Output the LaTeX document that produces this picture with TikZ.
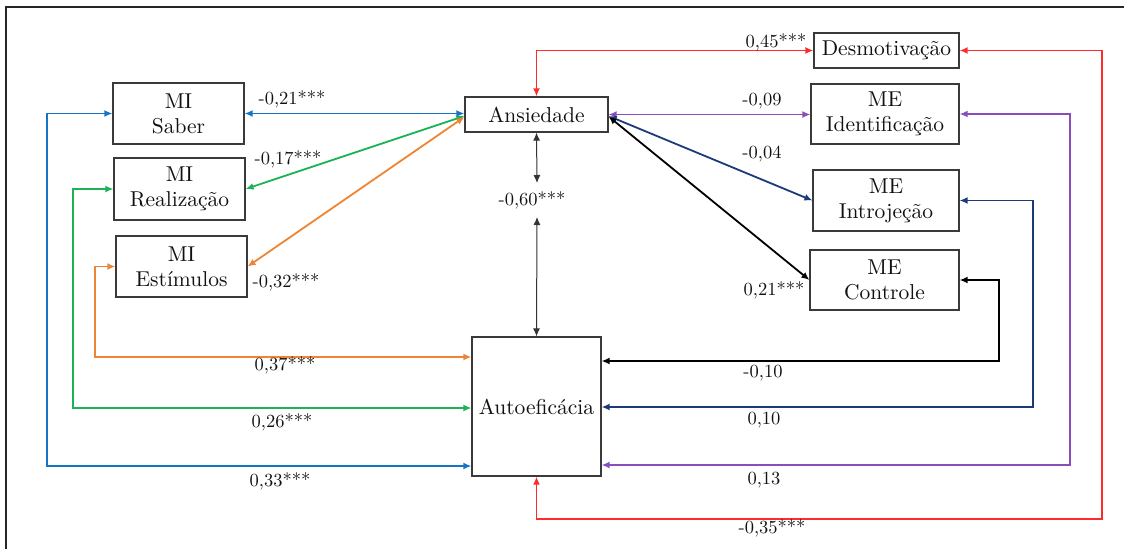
\documentclass[tikz,border=0pt]{standalone}
\usepackage{fontspec}
% 10pt design of Latin Modern Roman, used at every size for sturdier strokes
\setmainfont{lmroman10-regular}[Extension=.otf, BoldFont=lmroman10-bold]
\usetikzlibrary{arrows.meta}
\definecolor{cblue}{HTML}{1574C8}
\definecolor{cgreen}{HTML}{1DB257}
\definecolor{corange}{HTML}{EE8535}
\definecolor{cred}{HTML}{FF2A2A}
\definecolor{cpurple}{HTML}{8A4DBB}
\definecolor{cnavy}{HTML}{1C3A7A}
\definecolor{ctext}{HTML}{111111}
\definecolor{cbox}{HTML}{3A3A3A}
\tikzset{
  box/.style={draw=cbox, line width=1.2pt, fill=white, align=center, text=ctext,
    font=\rmfamily\fontsize{21.5}{25}\selectfont, inner sep=0pt},
  coef/.style={text=ctext, font=\rmfamily\fontsize{18.5}{20}\selectfont, inner sep=0pt},
  link/.style={line width=1.8pt, {Latex[length=8pt,width=7pt]}-{Latex[length=8pt,width=7pt]}},
  thinlink/.style={line width=1pt, draw=black!80, {Latex[length=8pt,width=7pt]}-{Latex[length=8pt,width=7pt]}}
}
\begin{document}
\begin{tikzpicture}[x=1pt,y=-1pt]
\useasboundingbox (0,0) rectangle (1124,549);
% outer frame (top and left edges)
\draw[line width=1.6pt, draw=black!85] (1124,7) -- (6,7) -- (6,549);

% variables
\node[box, minimum width=131pt, minimum height=61pt] (saber) at (178.5,113.5) {MI\\Saber};
\node[box, minimum width=131pt, minimum height=62pt] (real) at (179.5,189) {MI\\Realização};
\node[box, minimum width=131pt, minimum height=61pt] (estim) at (181.5,266.5) {MI\\Estímulos};
\node[box, minimum width=143pt, minimum height=35pt] (ans) at (536.5,114.5) {Ansiedade};
\node[box, minimum width=145pt, minimum height=35pt] (desm) at (886.5,50.5) {Desmotivação};
\node[box, minimum width=148pt, minimum height=60pt] (ident) at (885,114) {ME\\Identificação};
\node[box, minimum width=146pt, minimum height=61pt] (intro) at (886,200.5) {ME\\Introjeção};
\node[box, minimum width=149pt, minimum height=60pt] (ctrl) at (884.5,280) {ME\\Controle};
\node[box, minimum width=129pt, minimum height=139pt] (auto) at (536.5,406.5) {Autoeficácia};

% bends of the routed connectors
\coordinate (oc) at (95,357);
\coordinate (gc) at (73,408);
\coordinate (bc) at (47,466);
\coordinate (kc) at (999,361);
\coordinate (nc) at (1033,407);
\coordinate (pc) at (1070,465);
\coordinate (rc) at (1102,519);
\coordinate (t60) at (537,183);
\coordinate (b60) at (537,217);

% Ansiedade links
\draw[link, cblue] (saber.east) -- (saber.east -| ans.west);
\draw[link, cgreen] (real.east) -- ([yshift=-1.5pt]ans.west);
\draw[link, corange] (estim.east) -- ([yshift=-2.5pt]ans.west);
\draw[link, cpurple] (ans.east) -- (ans.east -| ident.west);
\draw[link, cnavy] ([yshift=-1.5pt]ans.east) -- (intro.west);
\draw[link, black] ([yshift=-2pt]ans.east) -- (ctrl.west);
\draw[link, cred] (desm.west) -| (ans.north);
\draw[thinlink] (ans.south) -- (t60);
\draw[thinlink] (b60) -- (auto.north);

% Autoeficácia links
\draw[link, corange] (estim.west) -| (oc) -- (oc -| auto.west);
\draw[link, cgreen] (real.west) -| (gc) -- (gc -| auto.west);
\draw[link, cblue] (saber.west) -| (bc) -- (bc -| auto.west);
\draw[link, black] (ctrl.east) -| (kc) -- (kc -| auto.east);
\draw[link, cnavy] (intro.east) -| (nc) -- (nc -| auto.east);
\draw[link, cpurple] (ident.east) -| (pc) -- (pc -| auto.east);
\draw[link, cred] (desm.east) -| (rc) -| (auto.south);

% coefficients
\node[coef] (l21) at (292,99) {-0,21***};
\node[coef] (l17) at (288,159) {-0,17***};
\node[coef] (l32) at (286,282) {-0,32***};
\node[coef] (l45) at (776,42) {0,45***};
\node[coef] (l09) at (762,101) {-0,09};
\node[coef] (l04) at (762,154) {-0,04};
\node[coef] (l21b) at (774,290) {0,21***};
\node[coef] (l60) at (532,200) {-0,60***};
\node[coef] (l37) at (285,365) {0,37***};
\node[coef] (l26) at (282,422) {0,26***};
\node[coef] (l33) at (280,481) {0,33***};
\node[coef] (l10n) at (763,373) {-0,10};
\node[coef] (l10) at (764,420) {0,10};
\node[coef] (l13) at (764,480) {0,13};
\node[coef] (l35) at (772,528) {-0,35***};
\end{tikzpicture}
\end{document}
